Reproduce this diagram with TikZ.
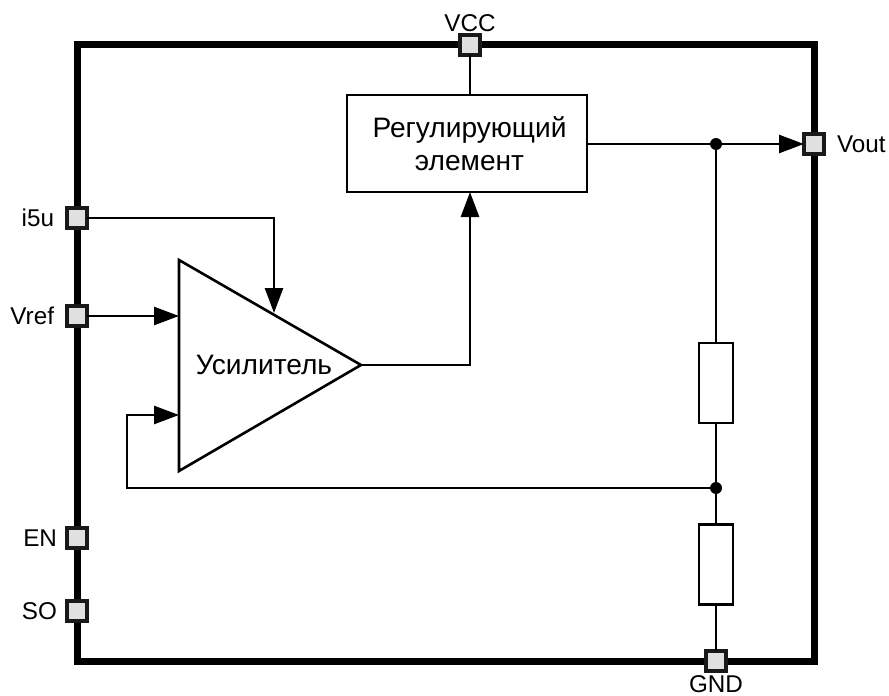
\documentclass[tikz,border=0pt]{standalone}
\usepackage{fontspec}
\setmainfont{Liberation Sans}
\usetikzlibrary{arrows.meta,positioning}

\begin{document}
\begin{tikzpicture}[>={Triangle[length=.25cm,width=.18cm]},line width=.026cm,
    pinbox/.style={draw=black!90,fill=black!12,line width=.032cm,minimum size=.2cm,inner sep=0pt,outer sep=0pt},
    pinlabel/.style={font=\fontsize{6.9}{8}\selectfont,inner sep=0pt,outer sep=0pt},
    resistor/.style={draw,minimum width=.34cm,minimum height=.8cm,inner sep=0pt,outer sep=0pt},
    junction/.style={circle,fill=black,minimum size=.12cm,inner sep=0pt,outer sep=0pt}]
    \useasboundingbox (0,0) rectangle (8.89,6.95);

    % body of the chip
    \draw [line width=.07cm] (.77,.34) rectangle (8.14,6.50);

    \begin{scope}[every node/.style={pinbox}]
      \node (vcc) at (4.70,6.50) {};
      \node (vout) at (8.14,5.51) {};
      \node (i5u) at (.77,4.77) {};
      \node (vref) at (.77,3.79) {};
      \node (en) at (.77,1.57) {};
      \node (so) at (.77,.84) {};
      \node (gnd) at (7.16,.34) {};
    \end{scope}

    \begin{scope}[every node/.style={pinlabel}]
      \node [above=.03 of vcc] {VCC};
      \node [right=.13 of vout] {Vout};
      \node [left=.13 of i5u] {i5u};
      \node [left=.13 of vref] {Vref};
      \node [left=.1 of en] {EN};
      \node [left=.1 of so] {SO};
      \node [below=.05 of gnd] {GND};
    \end{scope}

    % amplifier
    \coordinate (amptop) at (1.79,4.35);
    \coordinate (ampbot) at (1.79,2.24);
    \coordinate (ampout) at (3.61,3.30);
    \coordinate (ampbias) at (2.74,3.82);
    \coordinate (ampplus) at (1.79,3.79);
    \coordinate (ampminus) at (1.79,2.80);
    \coordinate (fbturn) at (1.27,2.80);
    \draw (amptop) -- (ampout) -- (ampbot) -- cycle;
    \node [font=\fontsize{8}{10}\selectfont,inner sep=0pt] (amp) at (2.64,3.30) {Усилитель};

    \node [draw,outer sep=0pt,minimum width=2.4cm,minimum height=.97cm,inner sep=0pt] (reg) at (4.67,5.515) {};
    \node [inner sep=0pt,align=center,font=\fontsize{8}{9.4}\selectfont] (regtext) at (4.695,5.51) {Регулирующий\\элемент};
    \coordinate (regin) at (4.70,5.03);

    \node [resistor] (r1) at (7.16,3.12) {};
    \node [resistor] (r2) at (7.16,1.305) {};
    \node [junction] (jout) at (7.16,5.51) {};
    \node [junction] (jfb) at (7.16,2.07) {};

    \draw (vcc.south) -- (vcc |- reg.north);
    \draw [->] (reg.east |- vout) -- (vout.west);
    \draw (jout) -- (r1.north);
    \draw (r1.south) -- (jfb);
    \draw (jfb) -- (r2.north);
    \draw (r2.south) -- (gnd.north);
    \draw [->] (i5u.east) -| (ampbias);
    \draw [->] (vref.east) -- (ampplus);
    \draw [->] (ampout) -| (regin);
    \draw [->] (jfb) -| (fbturn) -- (ampminus);
\end{tikzpicture}
\end{document}
